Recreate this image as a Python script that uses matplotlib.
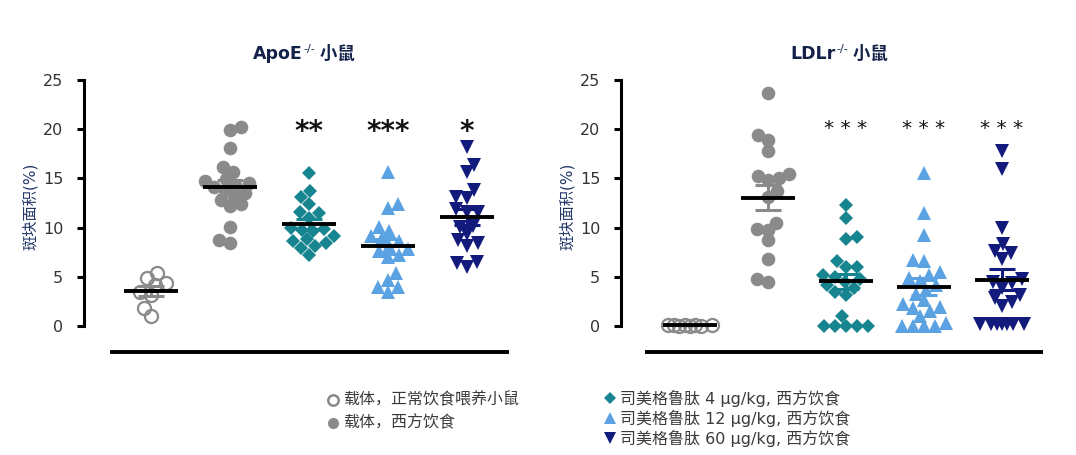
import numpy as np
import matplotlib
matplotlib.use('Agg')
import matplotlib.pyplot as plt
from matplotlib.lines import Line2D

plt.rcParams['font.family'] = ['DejaVu Sans', 'Noto Sans CJK SC']

# values (plaque area, %)
apoe_chow = [5.4, 4.9, 4.4, 4.2, 3.5, 3.2, 1.8, 1.0]
apoe_wd = [20.2, 19.9, 18.1, 16.2, 15.7, 14.9, 14.7, 14.5, 14.3, 14.1, 13.8,
           13.5, 13.2, 12.8, 12.4, 12.2, 10.1, 8.7, 8.4]
apoe_s4 = [15.5, 13.7, 13.1, 12.4, 11.6, 11.5, 11.0, 10.0, 9.8, 9.9, 9.7,
           9.1, 8.8, 8.6, 8.4, 8.1, 7.9, 7.2]
apoe_s12 = [15.7, 12.4, 12.0, 10.1, 9.7, 9.1, 8.9, 8.6, 8.1, 7.8, 7.6, 7.2,
            7.0, 5.4, 4.7, 4.0, 4.0, 3.5]
apoe_s60 = [18.2, 16.4, 15.6, 13.8, 13.0, 13.1, 11.6, 11.9, 11.6, 10.1, 10.2,
            9.3, 8.4, 8.1, 8.7, 6.5, 6.0, 6.4]

ldlr_chow = [0.1, 0.1, 0.05, 0.15, 0.1, 0.0, 0.1, 0.05]
ldlr_wd = [23.7, 19.4, 18.9, 17.8, 15.2, 14.8, 15.0, 15.4, 13.7, 13.1, 9.9,
           10.5, 9.8, 8.7, 6.8, 4.5, 4.8]
ldlr_s4 = [12.3, 11.0, 9.0, 8.8, 6.6, 6.0, 6.0, 5.2, 5.0, 4.8, 4.5, 4.2, 3.9,
           3.5, 3.2, 1.0, 0.0, 0.0, 0.0, 0.0, 0.0]
ldlr_s12 = [15.5, 11.5, 9.2, 6.7, 6.6, 5.5, 5.2, 4.9, 4.6, 4.2, 3.7, 3.3, 2.6,
            2.2, 1.9, 1.8, 1.5, 1.0, 0.3, 0.0, 0.0, 0.0, 0.0]
ldlr_s60 = [17.8, 16.0, 10.0, 8.3, 7.6, 7.4, 6.8, 4.8, 3.9, 4.5, 4.4, 3.1, 2.8,
            2.4, 2.0, 0.2, 0.2, 0.2, 0.2, 0.2, 0.2, 0.2]

apoe_stars = ['', '', '**', '***', '*']
ldlr_stars = ['', '', '* * *', '* * *', '* * *']

legend_labels = ['载体，正常饮食喂养小鼠', '载体，西方饮食',
                 '司美格鲁肽 4 µg/kg, 西方饮食', '司美格鲁肽 12 µg/kg, 西方饮食',
                 '司美格鲁肽 60 µg/kg, 西方饮食']

gray = '#8a8a8a'
teal = '#17858f'
lblue = '#5aa2e2'
navy = '#121a7c'
styles = [('o', gray, True), ('o', gray, False), ('D', teal, False),
          ('^', lblue, False), ('v', navy, False)]
msizes = [9.4, 9.8, 7.6, 9.8, 9.8]

W, H = 1076, 455


def fx(p):
    return p / W


def fy(p):
    return 1 - p / H


def swarm(vals, xs, ys, d=10.5, maxw=27):
    vals = np.asarray(vals, float)
    offs = np.zeros(len(vals))
    placed = []
    steps = [0]
    for k in range(1, maxw + 1):
        steps += [k, -k]
    for n, i in enumerate(np.argsort(vals, kind='stable')):
        y = vals[i] * ys
        best, bestd = 0, -1
        flip = -1 if n % 2 else 1
        for c in steps:
            c = c * flip
            md = min([np.hypot(c - px, y - py) for px, py in placed] + [99])
            if md >= d:
                best = c
                break
            if md > bestd:
                best, bestd = c, md
        placed.append((best, y))
        offs[i] = best / xs
    return offs


fig = plt.figure(figsize=(W / 100, H / 100), dpi=100)
renderer = fig.canvas.get_renderer()


def title(name, cx):
    # name + small superscript + CJK word, laid out side by side
    kw = dict(va='baseline', ha='left', color='#14224a')
    parts = [fig.text(0, fy(59), name, fontsize=12.5, fontweight='bold', **kw),
             fig.text(0, fy(52), '-/-', fontsize=8, **kw),
             fig.text(0, fy(59), ' 小鼠', fontsize=12.5, fontweight='bold',
                      family='Noto Sans CJK SC', **kw)]
    widths = [p.get_window_extent(renderer).width for p in parts]
    x = cx - sum(widths) / 2
    for p, w in zip(parts, widths):
        p.set_x(fx(x))
        x += w + 1


def panel(groups, stars, g0, sp, left, right, name, tx, star_y):
    ax = fig.add_axes([fx(left), fy(352), fx(right) - fx(left), fy(80) - fy(352)])
    ysc = (326 - 80) / 25
    ax.set_xlim((left - g0) / sp, (right - g0) / sp)
    ax.set_ylim(-26 / ysc, 25)
    for i, vals in enumerate(groups):
        m, c, hollow = styles[i]
        xo = swarm(vals, sp, ysc)
        ax.plot(i + xo, vals, ls='none', marker=m, ms=msizes[i],
                mfc='none' if hollow else c, mec=c, mew=1.6 if hollow else 0,
                clip_on=False, zorder=2)
        mean = np.mean(vals)
        sem = np.std(vals, ddof=1) / np.sqrt(len(vals))
        ax.vlines(i, mean - sem, mean + sem, color=c, lw=2.2, zorder=3)
        ax.hlines([mean - sem, mean + sem], i - 0.17, i + 0.17, color=c, lw=2.2, zorder=3)
        ax.hlines(mean, i - 0.34, i + 0.34, color='black', lw=2.8, zorder=4)
        if stars[i]:
            big = stars[i].count(' ') == 0
            ax.text(i, star_y if big else star_y + 0.5, stars[i], ha='center',
                    va='baseline', fontsize=20 if big else 14.5,
                    fontweight='bold' if big else 'normal', color='#111111')
    for s in ['top', 'right']:
        ax.spines[s].set_visible(False)
    ax.spines['left'].set_bounds(0, 25)
    ax.spines['left'].set_linewidth(2.2)
    ax.spines['bottom'].set_bounds(-0.49 if left < 500 else -0.55, 4.5)
    ax.spines['bottom'].set_linewidth(2.8)
    ax.set_xticks([])
    ax.set_yticks([0, 5, 10, 15, 20, 25])
    ax.tick_params(axis='y', length=5, width=2.2, pad=10, labelsize=11.5,
                   labelcolor='#333333')
    ax.patch.set_visible(False)
    title(name, tx)
    fig.text(fx(left - 54), fy(206), '斑块面积(%)', rotation=90, ha='center',
             va='center', fontsize=11, color='#23386a')
    return ax


panel([apoe_chow, apoe_wd, apoe_s4, apoe_s12, apoe_s60], apoe_stars,
      151, 79, 84, 510, 'ApoE', 303, 18.9)
panel([ldlr_chow, ldlr_wd, ldlr_s4, ldlr_s12, ldlr_s60], ldlr_stars,
      690, 78, 621, 1043, 'LDLr', 838, 19.0)

# legend drawn by hand in two columns
leg_pos = [(333, 400), (333, 423), (610, 398), (610, 418), (610, 438)]
leg_ms = [7.5, 8, 6, 8.5, 8.5]
for i, (px, py) in enumerate(leg_pos):
    m, c, hollow = styles[i]
    fig.add_artist(Line2D([fx(px)], [fy(py)], transform=fig.transFigure,
                          ls='none', marker=m, ms=leg_ms[i],
                          mfc='none' if hollow else c, mec=c,
                          mew=1.8 if hollow else 0))
    fig.text(fx(px + 10), fy(py), legend_labels[i], ha='left', va='center',
             fontsize=11.5, color='#3a3a3a')

fig.savefig('out.png', dpi=100)
